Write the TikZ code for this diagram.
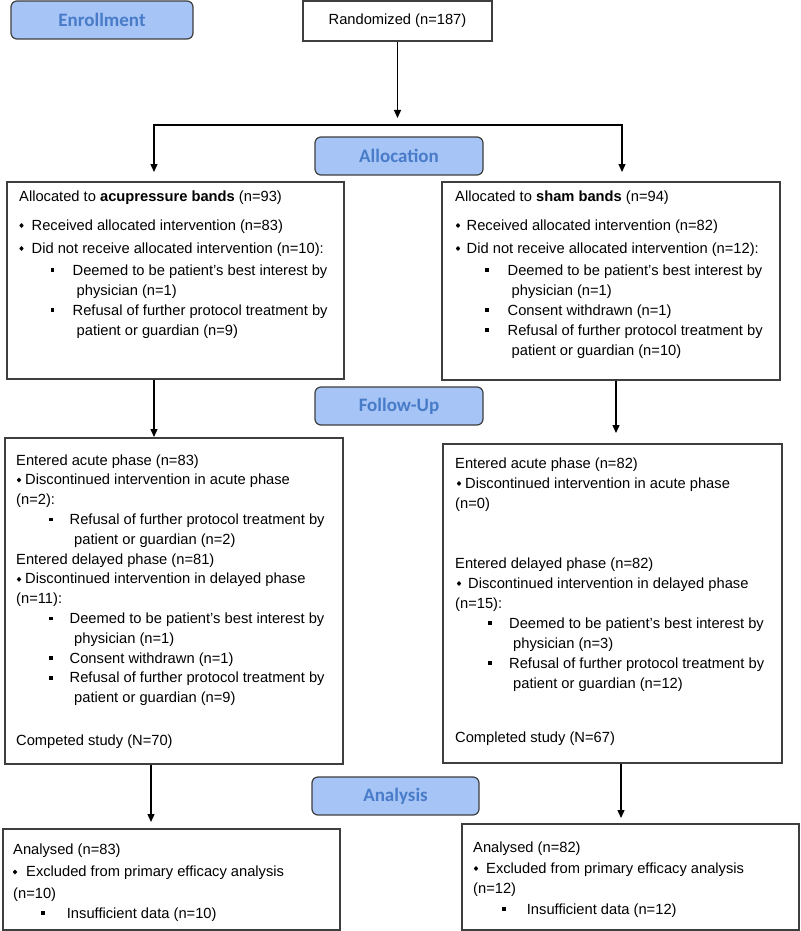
\documentclass[tikz,border=0pt]{standalone}
\usepackage{fontspec}
\setmainfont{Liberation Sans}
\newfontfamily\hdrfont{Carlito}
\usetikzlibrary{arrows.meta}
\definecolor{hfill}{RGB}{166,196,246}
\definecolor{htext}{RGB}{72,124,200}
\definecolor{bline}{RGB}{62,62,62}
\newcommand\tl[4]{\node[txt] (#1) at (#2,#3) {#4};}
\newcommand\dmd[2]{\fill (#1,#2) +(0,-2.5) -- +(2.2,0) -- +(0,2.5) -- +(-2.2,0) -- cycle;}
\newcommand\sqb[2]{\fill (#1,#2) +(-1.9,-1.9) rectangle +(1.9,1.9);}
\begin{document}
\begin{tikzpicture}[x=1pt,y=-1pt,
  hdr/.style={draw=bline,line width=1.2pt,rounded corners=6pt,fill=hfill,text=htext,
    font=\hdrfont\bfseries\fontsize{19}{23}\selectfont,inner sep=0pt},
  box/.style={draw=bline,line width=1.3pt,inner sep=0pt},
  txt/.style={anchor=base west,inner sep=0pt,font=\fontsize{14.7}{18}\selectfont},
  arr/.style={line width=1.3pt,-{Triangle[length=8pt,width=7pt]}},
  ]
\useasboundingbox (0,0) rectangle (800,931);
% header boxes
\node[hdr,minimum width=182pt,minimum height=38pt] (enr) at (102,20) {Enrollment};
\node[hdr,minimum width=168pt,minimum height=38pt] (allo) at (399,156) {Allocation};
\node[hdr,minimum width=168pt,minimum height=38pt] (fu) at (399,406) {Follow-Up};
\node[hdr,minimum width=167pt,minimum height=38pt] (an) at (395.5,796) {Analysis};
% content boxes
\node[box,minimum width=189pt,minimum height=40pt,font=\fontsize{14.7}{18}\selectfont] (rand) at (397.5,21) {Randomized (n=187)};
\node[box,minimum width=337pt,minimum height=197pt] (alloL) at (175.5,280.5) {};
\node[box,minimum width=338pt,minimum height=198pt] (alloR) at (611,281) {};
\node[box,minimum width=338pt,minimum height=326pt] (fuL) at (174,601) {};
\node[box,minimum width=339pt,minimum height=319pt] (fuR) at (612.5,603.5) {};
\node[box,minimum width=337pt,minimum height=101pt] (anL) at (171.5,879.5) {};
\node[box,minimum width=337pt,minimum height=106pt] (anR) at (630.5,877) {};
% connectors
\coordinate (c1) at (397.5,118);
\draw[arr] (rand.south) -- (c1);
\coordinate (tl) at (154,172);
\coordinate (tr) at (622,172);
\draw[line width=1.3pt,{Triangle[length=8pt,width=7pt]}-{Triangle[length=8pt,width=7pt]}] (tl) -- (154,125) -- (622,125) -- (tr);
\coordinate (a2) at (154,437);
\draw[arr] (a2 |- alloL.south) -- (a2);
\coordinate (a3) at (616,433);
\draw[arr] (a3 |- alloR.south) -- (a3);
\coordinate (a4) at (151,822);
\draw[arr] (a4 |- fuL.south) -- (a4);
\coordinate (a5) at (621,818);
\draw[arr] (a5 |- fuR.south) -- (a5);
% left allocation text
\tl{la1}{19}{201}{Allocated to \textbf{acupressure bands} (n=93)}
\dmd{21.5}{225.5}\tl{la2}{31.5}{230}{Received allocated intervention (n=83)}
\dmd{21.5}{248.5}\tl{la3}{31.5}{253}{Did not receive allocated intervention (n=10):}
\sqb{52.5}{270}\tl{la4}{72.5}{275}{Deemed to be patient’s best interest by}
\tl{la5}{76.5}{295}{physician (n=1)}
\sqb{52.5}{310}\tl{la6}{72.5}{315}{Refusal of further protocol treatment by}
\tl{la7}{76.5}{335}{patient or guardian (n=9)}
% right allocation text
\tl{ra1}{455}{201}{Allocated to \textbf{sham bands} (n=94)}
\dmd{458}{225.5}\tl{ra2}{466.5}{230}{Received allocated intervention (n=82)}
\dmd{458}{248.5}\tl{ra3}{466.5}{253}{Did not receive allocated intervention (n=12):}
\sqb{487}{270}\tl{ra4}{507.5}{275}{Deemed to be patient’s best interest by}
\tl{ra5}{511.5}{295}{physician (n=1)}
\sqb{487}{310}\tl{ra6}{507.5}{315}{Consent withdrawn (n=1)}
\sqb{487}{330}\tl{ra7}{507.5}{335}{Refusal of further protocol treatment by}
\tl{ra8}{511.5}{355}{patient or guardian (n=10)}
% left follow-up text
\tl{lf1}{16}{465}{Entered acute phase (n=83)}
\dmd{19}{480}\tl{lf2}{25}{484.8}{Discontinued intervention in acute phase}
\tl{lf3}{16}{504.6}{(n=2):}
\sqb{51}{519.4}\tl{lf4}{69.5}{524.4}{Refusal of further protocol treatment by}
\tl{lf5}{74}{544.2}{patient or guardian (n=2)}
\tl{lf6}{16}{564}{Entered delayed phase (n=81)}
\dmd{19}{579.3}\tl{lf7}{25}{583.8}{Discontinued intervention in delayed phase}
\tl{lf8}{16}{603.6}{(n=11):}
\sqb{51}{618.4}\tl{lf9}{69.5}{623.4}{Deemed to be patient’s best interest by}
\tl{lf10}{74}{643.2}{physician (n=1)}
\sqb{51}{658}\tl{lf11}{69.5}{663}{Consent withdrawn (n=1)}
\sqb{51}{677.8}\tl{lf12}{69.5}{682.8}{Refusal of further protocol treatment by}
\tl{lf13}{74}{702.6}{patient or guardian (n=9)}
\tl{lf14}{16}{745}{Competed study (N=70)}
% right follow-up text
\tl{rf1}{455}{468}{Entered acute phase (n=82)}
\dmd{459}{483.5}\tl{rf2}{465}{488}{Discontinued intervention in acute phase}
\tl{rf3}{455}{508}{(n=0)}
\tl{rf4}{455}{568}{Entered delayed phase (n=82)}
\dmd{459}{583.5}\tl{rf5}{468}{588}{Discontinued intervention in delayed phase}
\tl{rf6}{455}{608}{(n=15):}
\sqb{490}{623}\tl{rf7}{509}{628}{Deemed to be patient’s best interest by}
\tl{rf8}{513}{648}{physician (n=3)}
\sqb{490}{663}\tl{rf9}{509}{668}{Refusal of further protocol treatment by}
\tl{rf10}{513}{688}{patient or guardian (n=12)}
\tl{rf11}{455}{742}{Completed study (N=67)}
% left analysis text
\tl{ln1}{13}{854}{Analysed (n=83)}
\dmd{15}{872}\tl{ln2}{26}{876.7}{Excluded from primary efficacy analysis}
\tl{ln3}{13}{898}{(n=10)}
\sqb{43}{913}\tl{ln4}{66.7}{918}{Insufficient data (n=10)}
% right analysis text
\tl{rn1}{473}{852}{Analysed (n=82)}
\dmd{476}{868.5}\tl{rn2}{486}{873}{Excluded from primary efficacy analysis}
\tl{rn3}{473}{893}{(n=12)}
\sqb{504}{909}\tl{rn4}{526.7}{914}{Insufficient data (n=12)}
\end{tikzpicture}
\end{document}
